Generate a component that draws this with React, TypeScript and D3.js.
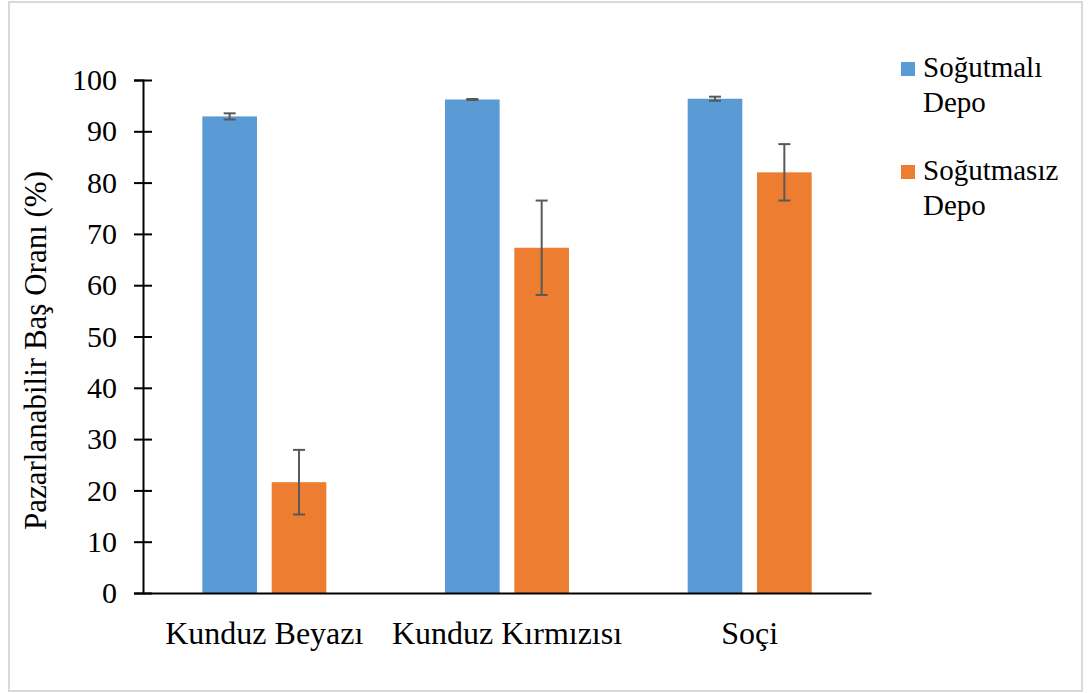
import { useRef, useEffect } from 'react';
import * as d3 from 'd3';

const categories = ['Kunduz Beyazı', 'Kunduz Kırmızısı', 'Soçi'];
const seriesNames = ['Soğutmalı Depo', 'Soğutmasız Depo'];
const legendLines = [
  ['Soğutmalı', 'Depo'],
  ['Soğutmasız', 'Depo'],
];
const cooledValues = [92.9, 96.2, 96.35];
const cooledErrors = [0.6, 0.1, 0.4];
const uncooledValues = [21.6, 67.3, 82.0];
const uncooledErrors = [6.3, 9.2, 5.5];
const yTicks = [0, 10, 20, 30, 40, 50, 60, 70, 80, 90, 100];
const colors = ['#5B9BD5', '#ED7D31'];

const W = 1088;
const H = 693;
const FONT = "'Liberation Serif', Tinos, 'Times New Roman', 'DejaVu Serif', serif";

export default function App() {
  const svgRef = useRef<SVGSVGElement>(null);

  useEffect(() => {
    if (!svgRef.current) return;
    const svg = d3.select(svgRef.current);
    svg.selectAll('*').remove();

    const plot = { left: 143, right: 871, top: 80, bottom: 593 };

    // outer frame
    svg.append('rect')
      .attr('x', 9)
      .attr('y', 2)
      .attr('width', 1073)
      .attr('height', 689)
      .attr('fill', '#fff')
      .attr('stroke', '#d9d9d9')
      .attr('stroke-width', 2);

    const x0 = d3.scaleBand<string>()
      .domain(categories)
      .range([plot.left, plot.right])
      .paddingInner(0)
      .paddingOuter(0);

    const x1 = d3.scaleBand<string>()
      .domain(seriesNames)
      .range([0, 124])
      .paddingInner(0.212)
      .paddingOuter(0);

    const y = d3.scaleLinear().domain([0, 100]).range([plot.bottom, plot.top]);

    const rows = categories.flatMap((c, i) => [
      { cat: c, s: seriesNames[0], v: cooledValues[i], e: cooledErrors[i], color: colors[0] },
      { cat: c, s: seriesNames[1], v: uncooledValues[i], e: uncooledErrors[i], color: colors[1] },
    ]);

    const barX = (d: { cat: string; s: string }) =>
      (x0(d.cat) as number) + x0.bandwidth() / 2 - 62 + (x1(d.s) as number);

    // bars
    svg.append('g')
      .selectAll('rect')
      .data(rows)
      .join('rect')
      .attr('x', barX)
      .attr('y', (d) => y(d.v))
      .attr('width', x1.bandwidth())
      .attr('height', (d) => y(0) - y(d.v))
      .attr('fill', (d) => d.color);

    // error bars
    const err = svg.append('g').attr('stroke', '#595959').attr('stroke-width', 2);
    rows.forEach((d) => {
      const cx = barX(d) + x1.bandwidth() / 2;
      const top = y(d.v + d.e);
      const bot = y(d.v - d.e);
      err.append('line').attr('x1', cx).attr('x2', cx).attr('y1', top).attr('y2', bot);
      err.append('line').attr('x1', cx - 6).attr('x2', cx + 6).attr('y1', top).attr('y2', top);
      err.append('line').attr('x1', cx - 6).attr('x2', cx + 6).attr('y1', bot).attr('y2', bot);
    });

    // y axis (cross tick marks)
    const yAxis = svg.append('g')
      .attr('transform', `translate(${plot.left},0)`)
      .call(d3.axisLeft(y).tickValues(yTicks).tickSizeOuter(0).tickSize(9).tickPadding(17));
    yAxis.attr('font-family', null);
    yAxis.select('.domain').attr('stroke', '#000').attr('stroke-width', 2);
    yAxis.selectAll('.tick line').attr('x1', 9).attr('x2', -9).attr('stroke', '#000').attr('stroke-width', 2);
    yAxis.selectAll('.tick text')
      .style('font-family', FONT)
      .style('font-size', '30px')
      .attr('fill', '#000');

    // x axis
    const xAxis = svg.append('g')
      .attr('transform', `translate(0,${plot.bottom})`)
      .call(d3.axisBottom(x0).tickSize(0).tickSizeOuter(0).tickPadding(28));
    xAxis.attr('font-family', null);
    xAxis.select('.domain').attr('stroke', '#000').attr('stroke-width', 2);
    xAxis.selectAll('.tick text')
      .style('font-family', FONT)
      .style('font-size', '32px')
      .attr('fill', '#000');

    // y title
    svg.append('text')
      .attr('transform', `translate(46,${(plot.top + plot.bottom) / 2 + 14}) rotate(-90)`)
      .attr('text-anchor', 'middle')
      .style('font-family', FONT)
      .style('font-size', '31px')
      .attr('fill', '#000')
      .text('Pazarlanabilir Baş Oranı (%)');

    // legend
    const legend = svg.append('g').attr('transform', 'translate(901,62)');
    legendLines.forEach((lines, i) => {
      const g = legend.append('g').attr('transform', `translate(0,${i * 103})`);
      g.append('rect').attr('width', 14).attr('height', 14).attr('fill', colors[i]);
      lines.forEach((t, j) => {
        g.append('text')
          .attr('x', 22)
          .attr('y', 15 + j * 35)
          .style('font-family', FONT)
          .style('font-size', '29px')
          .attr('fill', '#000')
          .text(t);
      });
    });
  }, []);

  return (
    <div style={{ position: 'absolute', left: 0, top: 0 }}>
      <svg ref={svgRef} width={W} height={H} style={{ display: 'block' }} />
    </div>
  );
}
